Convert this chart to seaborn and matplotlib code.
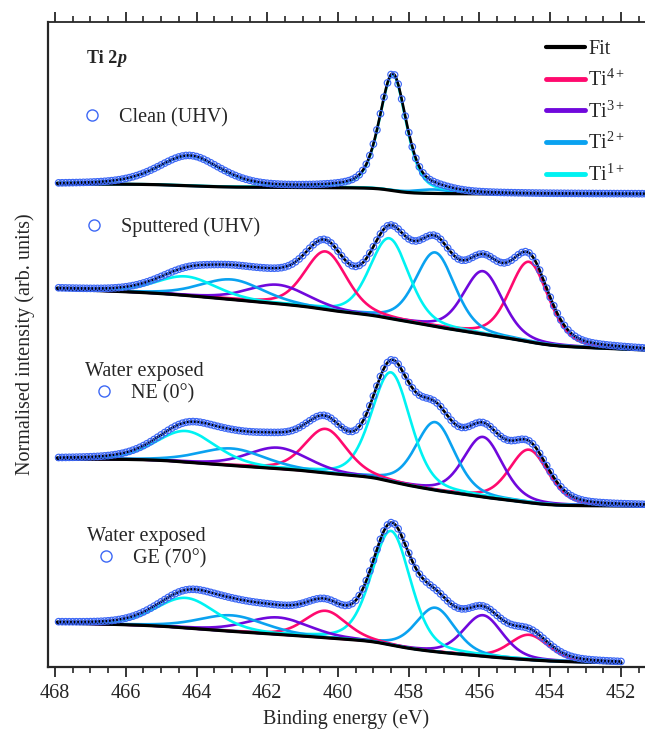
"""Ti 2p XPS spectra with fitted components."""

import matplotlib

matplotlib.use("Agg")
import matplotlib.pyplot as plt
from matplotlib.lines import Line2D
import numpy as np
import pandas as pd
import seaborn as sns

# component colours, one per oxidation state
STATE_LABELS = ["Ti$^{4+}$", "Ti$^{3+}$", "Ti$^{2+}$", "Ti$^{1+}$"]
STATE_COLOURS = ["#ff0a6e", "#7008dc", "#0aa2f0", "#00f2f2"]
DATA_COLOUR = "#3d68f5"

# each spectrum: peak centres (eV), heights above background, FWHM (eV), state index
# order: 2p3/2 (Ti4+, Ti3+, Ti2+, Ti1+) then 2p1/2 (same order)
STATE_OF_PEAK = [0, 1, 2, 3, 0, 1, 2, 3]

clean_centres = [454.6, 455.9, 457.3, 458.45, 460.35, 461.7, 463.0, 464.2]
clean_heights = [0, 0, 4, 116, 0, 0, 0, 30]
clean_fwhm = [1.15, 1.15, 1.2, 0.9, 1.3, 1.9, 1.9, 2.1]

sputtered_centres = [454.6, 455.9, 457.25, 458.55, 460.35, 461.7, 463.0, 464.3]
sputtered_heights = [80, 63, 74, 80, 58, 19, 20, 19]
sputtered_fwhm = [1.3, 1.3, 1.3, 1.3, 1.4, 2.0, 2.1, 2.0]

ne_centres = [454.6, 455.9, 457.25, 458.5, 460.35, 461.7, 463.0, 464.3]
ne_heights = [53, 60, 68, 109, 44, 21, 17, 31]
ne_fwhm = [1.3, 1.3, 1.3, 1.3, 1.4, 2.0, 2.2, 2.0]

ge_centres = [454.6, 455.9, 457.25, 458.5, 460.35, 461.7, 463.0, 464.3]
ge_heights = [25, 41, 44, 114, 27, 17, 16, 30]
ge_fwhm = [1.3, 1.3, 1.3, 1.3, 1.4, 2.1, 2.2, 2.0]

# Lorentzian fraction of the line shape
shape_mix = [0.45, 0.3, 0.3, 0.3]
# background level at the high / low binding-energy ends (offset units)
bg_high = [483, 378, 208, 44]
bg_low = [473, 317, 161, 4]
# share of a linear term mixed into the Shirley background
bg_linear = [0.0, 0.35, 0.0, 0.3]
# low binding-energy end of each recorded spectrum
energy_min = [451.3, 451.3, 451.3, 452.0]

spectrum_names = ["Clean (UHV)", "Sputtered (UHV)", "NE (0°)", "GE (70°)"]
spectrum_titles = [None, None, "Water exposed", "Water exposed"]

all_centres = [clean_centres, sputtered_centres, ne_centres, ge_centres]
all_heights = [clean_heights, sputtered_heights, ne_heights, ge_heights]
all_fwhm = [clean_fwhm, sputtered_fwhm, ne_fwhm, ge_fwhm]

ENERGY_MAX = 467.95
STEP = 0.02
POINT_EVERY = 5


def pseudo_voigt(energy, centre, height, fwhm, mix):
    x = (energy - centre) / fwhm
    return height * (mix / (1 + 4 * x**2) + (1 - mix) * np.exp(-4 * np.log(2) * x**2))


def shirley(energy, signal, high, low, linear):
    area = np.concatenate([[0.0], np.cumsum((signal[1:] + signal[:-1]) / 2 * np.diff(energy))])
    frac = (1 - linear) * area / area[-1]
    frac += linear * (energy - energy[0]) / (energy[-1] - energy[0])
    return low + (high - low) * frac


sns.set_style("ticks")
plt.rcParams["font.family"] = ["Liberation Serif", "DejaVu Serif"]
plt.rcParams["mathtext.fontset"] = "custom"
plt.rcParams["mathtext.rm"] = "Liberation Serif"
plt.rcParams["mathtext.it"] = "Liberation Serif:italic"
plt.rcParams["mathtext.bf"] = "Liberation Serif:bold"

fig = plt.figure(figsize=(6.45, 7.30), dpi=100)
ax = fig.add_axes([48 / 645, 1 - 667 / 730, 597 / 645, 645 / 730])

FS = 14.5

for i in range(4):
    energy = np.arange(energy_min[i], ENERGY_MAX + STEP / 2, STEP)
    comps = []
    for c, h, w, s in zip(all_centres[i], all_heights[i], all_fwhm[i], STATE_OF_PEAK):
        comps.append((s, pseudo_voigt(energy, c, h, w, shape_mix[i])))
    total = np.sum([p for _, p in comps], axis=0)
    background = shirley(energy, total, bg_high[i], bg_low[i], bg_linear[i])
    fit = background + total

    for s, p in comps:
        if p.max() <= 0:
            continue
        sns.lineplot(x=energy, y=background + p, color=STATE_COLOURS[s], lw=1.9,
                     ax=ax, zorder=2)
    sns.lineplot(x=energy, y=background, color="black", lw=2.3, ax=ax, zorder=3)
    sns.lineplot(x=energy, y=fit, color="black", lw=1.9, ax=ax, zorder=4)

    points = pd.DataFrame({"energy": energy[::POINT_EVERY], "counts": fit[::POINT_EVERY]})
    sns.scatterplot(data=points, x="energy", y="counts", marker="o", s=22,
                    ax=ax, zorder=5)
    dots = ax.collections[-1]
    dots.set_facecolor("none")
    dots.set_edgecolor(DATA_COLOUR)
    dots.set_linewidth(0.85)

# per-spectrum labels
label_anchor = [(0.0419, 0.837), (0.0452, 0.667), (0.062, 0.409), (0.0653, 0.153)]
for i in range(4):
    handle = Line2D([], [], ls="none", marker="o", ms=8, mfc="none",
                    mec=DATA_COLOUR, mew=1.0)
    leg = ax.legend([handle], [spectrum_names[i]], title=spectrum_titles[i],
                    loc="lower left", bbox_to_anchor=label_anchor[i],
                    frameon=False, fontsize=FS, title_fontsize=FS,
                    handlelength=1.9, handletextpad=0.4, borderpad=0,
                    borderaxespad=0, labelspacing=0.15, alignment="left")
    ax.add_artist(leg)

# component legend
handles = [Line2D([], [], color="black", lw=3)]
handles += [Line2D([], [], color=c, lw=3.5) for c in STATE_COLOURS]
ax.legend(handles, ["Fit"] + STATE_LABELS, loc="upper left",
          bbox_to_anchor=(0.834, 0.972), frameon=False, fontsize=FS,
          handlelength=1.95, handletextpad=0.15, labelspacing=0.52,
          borderpad=0, borderaxespad=0)

t = ax.text(0.0653, 0.944, "Ti 2", transform=ax.transAxes, fontsize=13,
            fontweight="bold", va="center", ha="left")
ax.annotate("p", xy=(1, 0), xycoords=t, va="bottom", ha="left", fontsize=13,
            fontweight="bold", fontstyle="italic")

ax.set_xlim(468.2, 451.32)
ax.set_ylim(0, 645)
ax.set_xticks(np.arange(468, 451, -2))
ax.set_xticks(np.arange(468, 451, -0.5), minor=True)
ax.set_yticks([])
ax.tick_params(axis="x", which="both", direction="out", top=True, labelsize=FS, pad=5)
ax.tick_params(axis="x", which="major", length=7, width=1.3)
ax.tick_params(axis="x", which="minor", length=4, width=1.2)
ax.spines["right"].set_visible(False)
for side in ["left", "bottom"]:
    ax.spines[side].set_linewidth(1.6)
ax.spines["top"].set_linewidth(1.3)
ax.set_xlabel("Binding energy (eV)", fontsize=FS, labelpad=5)
ax.set_ylabel("Normalised intensity (arb. units)", fontsize=FS, labelpad=9)

fig.savefig("out.png", dpi=100)
